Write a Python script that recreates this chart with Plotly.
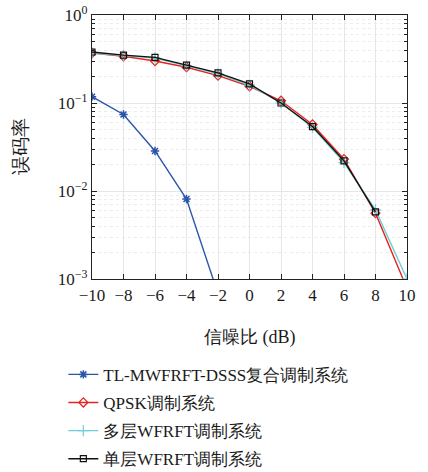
import plotly.graph_objects as go

snr = [-10, -8, -6, -4, -2, 0, 2, 4, 6, 8, 10]
tl_mwfrft = [0.118, 0.074, 0.0285, 0.0081, 0.00068]
qpsk = [0.37, 0.34, 0.30, 0.255, 0.205, 0.155, 0.106, 0.057, 0.023, 0.0056, 0.00078]
multi_wfrft = [0.37, 0.345, 0.325, 0.265, 0.215, 0.16, 0.10, 0.053, 0.021, 0.0061, 0.001]
single_wfrft = [0.38, 0.35, 0.33, 0.27, 0.22, 0.165, 0.10, 0.054, 0.022, 0.0058]

names = ["TL-MWFRFT-DSSS复合调制系统", "QPSK调制系统", "多层WFRFT调制系统", "单层WFRFT调制系统"]
x_ticks = [-10, -8, -6, -4, -2, 0, 2, 4, 6, 8, 10]
x_labels = ["−10", "−8", "−6", "−4", "−2", "0", "2", "4", "6", "8", "10"]
y_ticks = [1, 0.1, 0.01, 0.001]
y_labels = ["10<sup>0</sup>", "10<sup>−1</sup>", "10<sup>−2</sup>", "10<sup>−3</sup>"]
x_title = "信噪比 (dB)"
y_title = "误码率"

FONT = "Liberation Serif"

fig = go.Figure()
series = [
    (snr[:len(tl_mwfrft)], tl_mwfrft, "#2a55a8", dict(symbol="asterisk-open", size=7, line=dict(width=1.5, color="#2a55a8"))),
    (snr, qpsk, "#e8241f", dict(symbol="diamond-open", size=7, line=dict(width=1.2, color="#e8241f"))),
    (snr, multi_wfrft, "#6fcfd6", dict(symbol="cross-thin-open", size=8, line=dict(width=1.2, color="#6fcfd6"))),
    (snr[:len(single_wfrft)], single_wfrft, "#111111", dict(symbol="square-open", size=6, line=dict(width=1.2, color="#111111"))),
]
for i, ((xs, ys, col, mk), nm) in enumerate(zip(series, names)):
    fig.add_trace(go.Scatter(
        x=xs, y=ys, mode="lines+markers", name=nm,
        line=dict(color=col, width=1.4), marker=mk,
        legendgroup=f"g{i}", cliponaxis=True,
    ))

fig.update_layout(
    width=428, height=472,
    margin=dict(l=92, r=21, t=15, b=193, autoexpand=False),
    paper_bgcolor="white", plot_bgcolor="white",
    font=dict(family=FONT, size=17, color="#1a1a1a"),
    showlegend=True,
    legend=dict(
        xref="container", yref="container",
        x=0.148, y=0.244, xanchor="left", yanchor="top",
        orientation="v", tracegroupgap=3,
        font=dict(family=FONT, size=17, color="#1a1a1a"),
        bgcolor="rgba(0,0,0,0)", itemwidth=30,
    ),
    xaxis=dict(
        range=[-10, 10], tickvals=x_ticks, ticktext=x_labels,
        ticks="inside", ticklen=5, tickcolor="#222", mirror="ticks",
        showline=True, linecolor="#222", linewidth=1.3, automargin=False,
        showgrid=True, gridcolor="#e6e6e6", gridwidth=1, zeroline=False,
        tickfont=dict(size=17, family=FONT),
    ),
    yaxis=dict(
        type="log", range=[-3, 0], tickvals=y_ticks, ticktext=y_labels,
        ticks="inside", ticklen=5, tickcolor="#222", mirror="ticks",
        showline=True, linecolor="#222", linewidth=1.3, automargin=False,
        showgrid=True, gridcolor="#e6e6e6", gridwidth=1, zeroline=False,
        minor=dict(dtick="D1", ticks="inside", ticklen=3, tickcolor="#222",
                   showgrid=True, gridcolor="#ececec", griddash="dot"),
        tickfont=dict(size=17, family=FONT),
    ),
    annotations=[
        dict(text=x_title, xref="paper", yref="paper", x=0.5, y=0,
             xanchor="center", yanchor="middle", yshift=-58, showarrow=False,
             font=dict(size=18, family=FONT)),
        dict(text=y_title, xref="paper", yref="paper", x=0, y=0.5,
             xanchor="center", yanchor="middle", xshift=-72, textangle=-90,
             showarrow=False, font=dict(size=19, family=FONT)),
    ],
)

fig.write_html("out.html", config={"displayModeBar": False},
               post_script="document.body.style.margin='0';document.body.style.padding='0';")
